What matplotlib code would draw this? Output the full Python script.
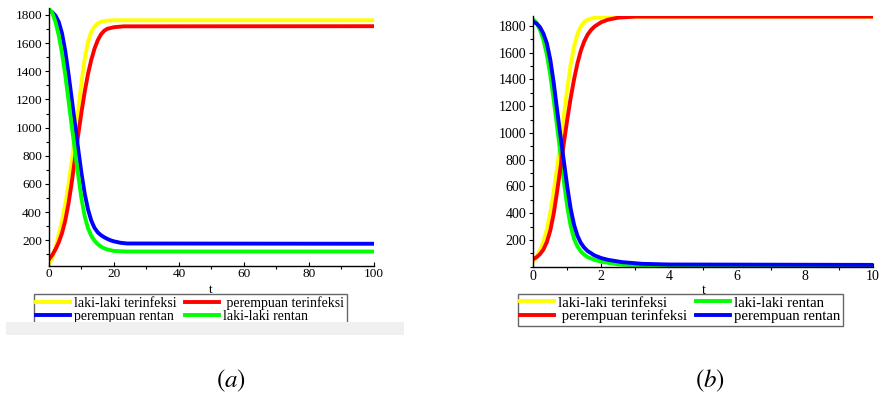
import numpy as np
import matplotlib
matplotlib.use("Agg")
import matplotlib.pyplot as plt
from matplotlib.patches import Rectangle
from matplotlib.ticker import MultipleLocator

# panel (a): t from 0 to 100
t_a_li = [0, 1, 2, 3, 4, 5, 6, 7, 8, 9, 10, 11, 12, 13, 14, 15, 16, 18, 20, 100]
laki_inf_a = [34, 75, 150, 240, 340, 455, 595, 760, 940, 1130, 1320, 1490, 1610, 1680, 1718, 1740,
              1752, 1760, 1762, 1762]

t_a_pi = [0, 1, 2, 3, 4, 5, 6, 7, 8, 9, 10, 11, 12, 13, 14, 15, 16, 17, 18, 20, 23, 100]
per_inf_a = [65, 95, 135, 185, 250, 340, 460, 610, 780, 950, 1110, 1255, 1380, 1480, 1560, 1620,
             1662, 1688, 1702, 1713, 1719, 1720]

t_a_pr = [0, 1, 2, 3, 4, 5, 6, 7, 8, 9, 10, 11, 12, 13, 14, 15, 16, 17, 18, 19, 20, 22, 24, 100]
per_ren_a = [1832, 1820, 1795, 1750, 1670, 1545, 1382, 1205, 1025, 845, 675, 530, 420, 340, 288, 256,
             236, 221, 209, 199, 192, 182, 177, 175]

t_a_lr = [0, 1, 2, 3, 4, 5, 6, 7, 8, 9, 10, 11, 12, 13, 14, 15, 16, 17, 18, 20, 24, 100]
laki_ren_a = [1845, 1815, 1750, 1655, 1530, 1375, 1195, 1010, 835, 660, 495, 370, 285, 232, 197, 172,
              155, 143, 134, 124, 120, 120]

# panel (b): t from 0 to 10
t_b_li = [0, 0.1, 0.2, 0.3, 0.4, 0.5, 0.6, 0.7, 0.8, 0.9, 1.0, 1.1, 1.2, 1.3, 1.4, 1.5, 1.6, 1.8, 2.0, 2.4, 10]
laki_inf_b = [38, 75, 125, 190, 280, 405, 560, 740, 930, 1130, 1330, 1510, 1645, 1740, 1797, 1830,
              1848, 1862, 1867, 1870, 1870]

t_b_pi = [0, 0.1, 0.2, 0.3, 0.4, 0.5, 0.6, 0.7, 0.8, 0.9, 1.0, 1.1, 1.2, 1.3, 1.4, 1.5, 1.6, 1.7, 1.8,
          2.0, 2.2, 2.5, 3.0, 10]
per_inf_b = [57, 72, 95, 130, 185, 270, 395, 560, 740, 925, 1100, 1260, 1400, 1520, 1615, 1685, 1735,
             1770, 1795, 1828, 1847, 1862, 1870, 1870]

t_b_lr = [0, 0.1, 0.2, 0.3, 0.4, 0.5, 0.6, 0.7, 0.8, 0.9, 1.0, 1.1, 1.2, 1.3, 1.4, 1.5, 1.6, 1.8, 2.0,
          2.5, 3.0, 4.0, 10]
laki_ren_b = [1848, 1820, 1770, 1695, 1585, 1435, 1250, 1050, 845, 640, 450, 305, 210, 152, 115, 90,
              72, 52, 38, 18, 10, 6, 4]

t_b_pr = [0, 0.1, 0.2, 0.3, 0.4, 0.5, 0.6, 0.7, 0.8, 0.9, 1.0, 1.1, 1.2, 1.3, 1.4, 1.5, 1.6, 1.8, 2.0,
          2.2, 2.6, 3.2, 4.0, 10]
per_ren_b = [1832, 1818, 1790, 1742, 1670, 1550, 1378, 1175, 980, 790, 600, 435, 315, 232, 178, 143,
             118, 85, 65, 52, 35, 22, 17, 14]

labels = ['laki-laki terinfeksi', ' perempuan terinfeksi', 'perempuan rentan', 'laki-laki rentan']
colors = ['#ffff00', '#ff0000', '#0000ff', '#00ff00']

plt.rcParams['font.family'] = ['Liberation Serif', 'DejaVu Serif']
plt.rcParams['mathtext.fontset'] = 'stix'

fig = plt.figure(figsize=(8.81, 3.93), dpi=100)
ax1 = fig.add_axes([0.0556, 0.3242, 0.3689, 0.6557])
ax2 = fig.add_axes([0.6053, 0.3212, 0.3856, 0.6383])

lw = 2.8
l1, = ax1.plot(t_a_li, laki_inf_a, color=colors[0], lw=lw, label=labels[0])
l2, = ax1.plot(t_a_pi, per_inf_a, color=colors[1], lw=lw, label=labels[1])
l3, = ax1.plot(t_a_pr, per_ren_a, color=colors[2], lw=lw, label=labels[2])
l4, = ax1.plot(t_a_lr, laki_ren_a, color=colors[3], lw=lw, label=labels[3])

m1, = ax2.plot(t_b_li, laki_inf_b, color=colors[0], lw=lw, label=labels[0])
m4, = ax2.plot(t_b_lr, laki_ren_b, color=colors[3], lw=lw, label=labels[3])
m2, = ax2.plot(t_b_pi, per_inf_b, color=colors[1], lw=lw, label=labels[1])
m3, = ax2.plot(t_b_pr, per_ren_b, color=colors[2], lw=lw, label=labels[2])

ax1.set_xlim(0, 100)
ax1.set_ylim(20, 1850)
ax2.set_xlim(0, 10)
ax2.set_ylim(0, 1875)

for ax, xmaj, xmin, fs in [(ax1, 20, 10, 9.5), (ax2, 2, 1, 10)]:
    for s in ['top', 'right']:
        ax.spines[s].set_visible(False)
    ax.spines['left'].set_linewidth(1.0)
    ax.spines['bottom'].set_linewidth(1.0)
    ax.xaxis.set_major_locator(MultipleLocator(xmaj))
    ax.xaxis.set_minor_locator(MultipleLocator(xmin))
    ax.yaxis.set_major_locator(MultipleLocator(200))
    ax.yaxis.set_minor_locator(MultipleLocator(100))
    ax.tick_params(axis='both', which='major', labelsize=fs, length=3, width=0.8, pad=2)
    ax.tick_params(axis='both', which='minor', length=2, width=0.8)
    ax.tick_params(axis='x', direction='in')
    ax.patch.set_visible(False)

ax1.set_yticks([200, 400, 600, 800, 1000, 1200, 1400, 1600, 1800])
ax2.set_yticks([200, 400, 600, 800, 1000, 1200, 1400, 1600, 1800])

fig.text(211 / 881, 1 - 290 / 393, 't', ha='center', va='center', fontsize=9.5)
fig.text(704 / 881, 1 - 291 / 393, 't', ha='center', va='center', fontsize=10)

leg_kw = dict(ncol=2, loc='upper left', frameon=True, fancybox=False,
              handletextpad=0.3, columnspacing=0.6, labelspacing=0.0,
              borderpad=0.15, borderaxespad=0, bbox_transform=fig.transFigure)
leg1 = fig.legend([l1, l3, l2, l4], [labels[0], labels[2], labels[1], labels[3]],
                  bbox_to_anchor=(34 / 881, 1 - 294 / 393), fontsize=10, handlelength=2.45, **leg_kw)
leg2 = fig.legend([m1, m2, m4, m3], [labels[0], labels[1], labels[3], labels[2]],
                  bbox_to_anchor=(517.7 / 881, 1 - 294 / 393), fontsize=10.6, handlelength=2.3, **leg_kw)
for leg in (leg1, leg2):
    leg.get_frame().set_edgecolor('#404040')
    leg.get_frame().set_linewidth(1.0)
    for h in leg.legend_handles:
        h.set_linewidth(2.8)

# grey bar covering the bottom of the left legend
fig.patches.append(Rectangle((6 / 881, 1 - 335 / 393), 398 / 881, 13 / 393,
                             transform=fig.transFigure, facecolor='#f0f0f0',
                             edgecolor='none', zorder=10))

fig.text(231 / 881, 1 - 381 / 393, '$(a)$', ha='center', va='center', fontsize=18)
fig.text(710 / 881, 1 - 381 / 393, '$(b)$', ha='center', va='center', fontsize=18)

plt.savefig('out.png', dpi=100)
